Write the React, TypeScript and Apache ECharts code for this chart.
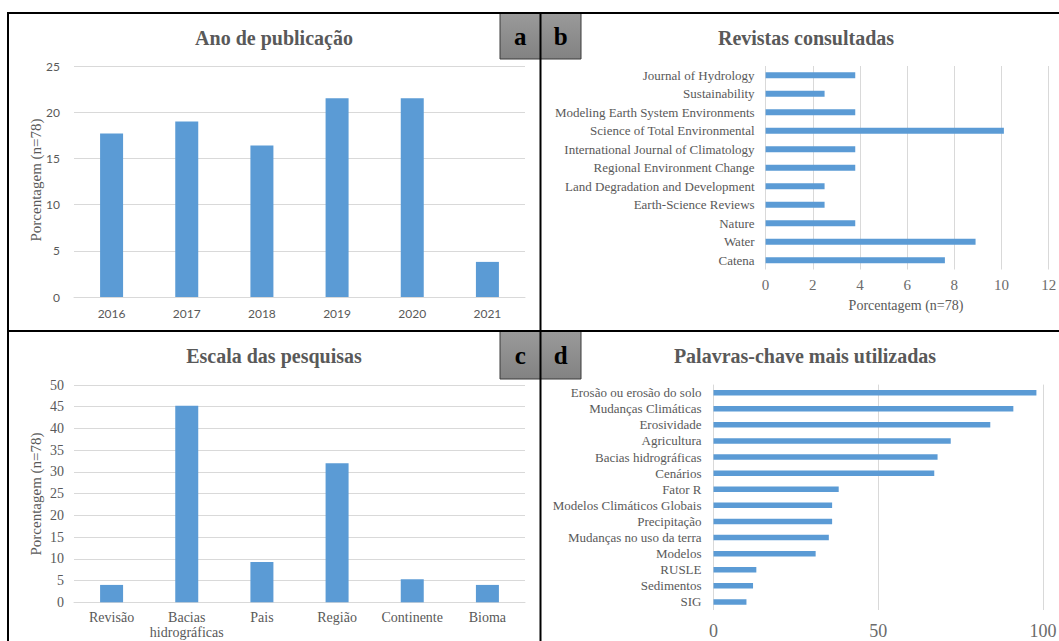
import React, { useEffect, useRef } from "react";
import * as echarts from "echarts";

const yearCats = ["2016", "2017", "2018", "2019", "2020", "2021"];
const yearVals = [17.7, 19.0, 16.4, 21.5, 21.5, 3.8];

const journalCats = [
  "Journal of Hydrology",
  "Sustainability",
  "Modeling Earth System Environments",
  "Science of Total Environmental",
  "International Journal of Climatology",
  "Regional Environment Change",
  "Land Degradation and Development",
  "Earth-Science Reviews",
  "Nature",
  "Water",
  "Catena",
];
const journalVals = [3.8, 2.5, 3.8, 10.1, 3.8, 3.8, 2.5, 2.5, 3.8, 8.9, 7.6];

const scaleCats = ["Revisão", "Bacias\nhidrográficas", "Pais", "Região", "Continente", "Bioma"];
const scaleVals = [4.0, 45.2, 9.3, 32.0, 5.3, 4.0];

const keywordCats = [
  "Erosão ou erosão do solo",
  "Mudanças Climáticas",
  "Erosividade",
  "Agricultura",
  "Bacias hidrográficas",
  "Cenários",
  "Fator R",
  "Modelos Climáticos Globais",
  "Precipitação",
  "Mudanças no uso da terra",
  "Modelos",
  "RUSLE",
  "Sedimentos",
  "SIG",
];
const keywordVals = [98, 91, 84, 72, 68, 67, 38, 36, 36, 35, 31, 13, 12, 10];

const yTitle = "Porcentagem (n=78)";

const BLUE = "#5b9bd5";
const GRID = "#d9d9d9";
const TXT = "#595959";
const SERIF = "Liberation Serif";
const SANS = "Lato";

export default function App() {
  const ref = useRef<HTMLDivElement>(null);
  useEffect(() => {
    document.body.style.margin = "0";
    const chart = echarts.init(ref.current!, null, { renderer: "svg" });

    const titleText = (text: string, x: number, y: number) => ({
      type: "text",
      x,
      y,
      z: 10,
      style: {
        text,
        fill: TXT,
        fontFamily: SERIF,
        fontSize: 20,
        fontWeight: "bold",
        textAlign: "center",
        textVerticalAlign: "middle",
      },
    });
    const yName = (x: number, y: number, size: number) => ({
      type: "text",
      x,
      y,
      rotation: Math.PI / 2,
      z: 10,
      style: {
        text: yTitle,
        fill: TXT,
        fontFamily: SERIF,
        fontSize: size,
        textAlign: "center",
        textVerticalAlign: "middle",
      },
    });
    const box = (x: number, y: number, w: number, h: number, letter: string) => ({
      type: "group",
      z: 20,
      children: [
        {
          type: "rect",
          shape: { x, y, width: w, height: h },
          style: {
            fill: new echarts.graphic.LinearGradient(0, 0, 0, 1, [
              { offset: 0, color: "#9a9a9a" },
              { offset: 1, color: "#828282" },
            ]),
            stroke: "#3a3a3a",
            lineWidth: 1,
          },
        },
        {
          type: "text",
          x: x + w / 2,
          y: y + h / 2,
          style: {
            text: letter,
            fill: "#000",
            fontFamily: SERIF,
            fontSize: 25,
            fontWeight: "bold",
            textAlign: "center",
            textVerticalAlign: "middle",
          },
        },
      ],
    });
    const line = (x1: number, y1: number, x2: number, y2: number, w = 2) => ({
      type: "line",
      z: 15,
      shape: { x1, y1, x2, y2 },
      style: { stroke: "#000", lineWidth: w },
    });

    const valueAxisCommon = {
      axisLine: { show: false },
      axisTick: { show: false },
      splitLine: { lineStyle: { color: GRID, width: 1 } },
    };

    chart.setOption({
      animation: false,
      backgroundColor: "#ffffff",
      grid: [
        { left: 74, right: 534, top: 66, bottom: 344, outerBoundsMode: "none", containLabel: false },
        { left: 765.6, right: 10.3, top: 66, bottom: 371.5, outerBoundsMode: "none", containLabel: false },
        { left: 74, right: 534, top: 385, bottom: 38.7, outerBoundsMode: "none", containLabel: false },
        { left: 713.5, right: 16, top: 384.6, bottom: 31, outerBoundsMode: "none", containLabel: false },
      ],
      xAxis: [
        {
          gridIndex: 0,
          type: "category",
          data: yearCats,
          axisLine: { lineStyle: { color: GRID } },
          axisTick: { show: false },
          axisLabel: { interval: 0, color: TXT, fontFamily: SANS, fontSize: 12, margin: 10 },
        },
        {
          gridIndex: 1,
          type: "value",
          min: 0,
          max: 12,
          interval: 2,
          ...valueAxisCommon,
          axisLabel: { color: "#6b6b6b", fontFamily: SERIF, fontSize: 15, margin: 8 },
        },
        {
          gridIndex: 2,
          type: "category",
          data: scaleCats,
          axisLine: { lineStyle: { color: GRID } },
          axisTick: { show: false },
          axisLabel: { interval: 0, color: TXT, fontFamily: SERIF, fontSize: 14, margin: 8, lineHeight: 15 },
        },
        {
          gridIndex: 3,
          type: "value",
          min: 0,
          max: 100,
          interval: 50,
          ...valueAxisCommon,
          axisLabel: { color: "#6b6b6b", fontFamily: SERIF, fontSize: 18, margin: 12 },
        },
      ],
      yAxis: [
        {
          gridIndex: 0,
          type: "value",
          min: 0,
          max: 25,
          interval: 5,
          ...valueAxisCommon,
          axisLabel: { color: TXT, fontFamily: SANS, fontSize: 12, margin: 14 },
        },
        {
          gridIndex: 1,
          type: "category",
          data: journalCats,
          inverse: true,
          axisLine: { show: false },
          axisTick: { show: false },
          axisLabel: { interval: 0, color: TXT, fontFamily: SERIF, fontSize: 13, margin: 11 },
        },
        {
          gridIndex: 2,
          type: "value",
          min: 0,
          max: 50,
          interval: 5,
          ...valueAxisCommon,
          axisLabel: { color: TXT, fontFamily: SERIF, fontSize: 14, margin: 10 },
        },
        {
          gridIndex: 3,
          type: "category",
          data: keywordCats,
          inverse: true,
          axisLine: { show: false },
          axisTick: { show: false },
          axisLabel: { interval: 0, color: TXT, fontFamily: SERIF, fontSize: 13, margin: 12 },
        },
      ],
      series: [
        { type: "bar", xAxisIndex: 0, yAxisIndex: 0, data: yearVals, barWidth: 23, itemStyle: { color: BLUE } },
        { type: "bar", xAxisIndex: 1, yAxisIndex: 1, data: journalVals, barWidth: 6, itemStyle: { color: BLUE } },
        { type: "bar", xAxisIndex: 2, yAxisIndex: 2, data: scaleVals, barWidth: 23, itemStyle: { color: BLUE } },
        { type: "bar", xAxisIndex: 3, yAxisIndex: 3, data: keywordVals, barWidth: 5.5, itemStyle: { color: BLUE } },
      ],
      graphic: [
        titleText("Ano de publicação", 274, 38),
        titleText("Revistas consultadas", 806, 38),
        titleText("Escala das pesquisas", 274, 356),
        titleText("Palavras-chave mais utilizadas", 805, 356),
        yName(36, 180, 15),
        yName(36, 494, 15),
        {
          type: "text",
          x: 906,
          y: 305,
          z: 10,
          style: {
            text: yTitle,
            fill: TXT,
            fontFamily: SERIF,
            fontSize: 14,
            textAlign: "center",
            textVerticalAlign: "middle",
          },
        },
        line(8, 13, 1059, 13),
        line(8, 12, 8, 641),
        line(540.5, 13, 540.5, 641),
        line(8, 331, 1059, 331),
        box(500, 13, 40.5, 46, "a"),
        box(540.5, 13, 40.5, 46, "b"),
        box(500, 331, 40.5, 48, "c"),
        box(540.5, 331, 40.5, 48, "d"),
      ],
    });
    return () => chart.dispose();
  }, []);
  return <div ref={ref} style={{ width: 1059, height: 641 }} />;
}
